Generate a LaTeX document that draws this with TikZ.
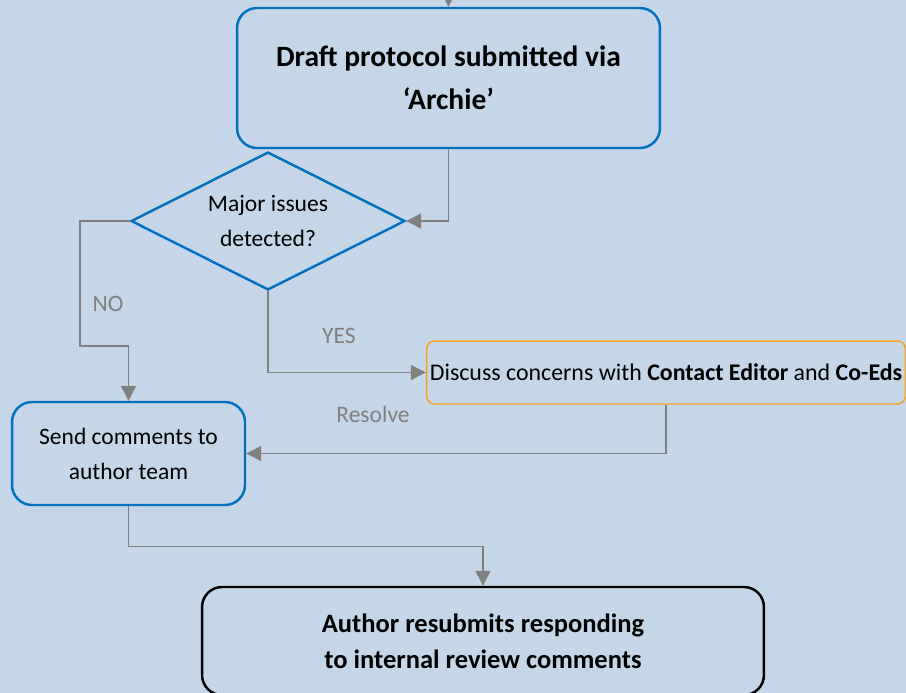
\documentclass[tikz,border=0pt]{standalone}
\usepackage{fontspec}
\setmainfont{Carlito}
\usetikzlibrary{arrows.meta,shapes.geometric,calc}
\definecolor{bg}{HTML}{C6D6E9}
\definecolor{flowblue}{HTML}{0070C0}
\definecolor{flowgray}{HTML}{808080}
\definecolor{floworange}{HTML}{F5A31A}
\newcommand{\txt}{\fontsize{13.4}{19.9}\selectfont}
\tikzset{
  box/.style={draw=flowblue, line width=1.4pt, rounded corners=0.4cm, align=center,
              inner sep=0pt, font=\txt},
  bigbox/.style={box, font=\fontsize{16.8}{24.5}\selectfont\bfseries},
  decision/.style={diamond, draw=flowblue, line width=1.4pt, aspect=2, inner sep=0pt,
                   align=center, font=\txt},
  orangebox/.style={draw=floworange, line width=0.85pt, rounded corners=0.16cm,
                    inner sep=0pt, font=\fontsize{13.6}{19.9}\selectfont},
  endbox/.style={draw=black, line width=1.4pt, rounded corners=0.4cm, align=center,
                 inner sep=0pt, font=\fontsize{15.1}{20.5}\selectfont\bfseries},
  ar/.style={-{Triangle[length=0.3cm, width=0.3cm]}, line width=0.75pt, draw=flowgray},
  lbl/.style={font=\txt, text=flowgray}
}

\begin{document}
\begin{tikzpicture}[x=0.02cm, y=-0.02cm]
  \fill[bg] (0,0) rectangle (906,693);
  \useasboundingbox (0,0) rectangle (906,693);

  \node[bigbox, minimum width=8.46cm, minimum height=2.8cm] (draft) at (448.5,78) {Draft protocol submitted via\\‘Archie’};
  \node[decision, minimum width=5.48cm, minimum height=2.76cm] (issue) at (268,221) {Major issues\\detected?};
  \node[orangebox, minimum width=9.58cm, minimum height=1.26cm] (discuss) at (666,372.5) {Discuss concerns with \textbf{Contact Editor} and \textbf{Co-Eds}};
  \node[box, minimum width=4.66cm, minimum height=2.06cm] (send) at (128.5,453.5) {Send comments to\\author team};
  \node[endbox, minimum width=11.24cm, minimum height=2.16cm] (resub) at (483,641) {Author resubmits responding\\to internal review comments};

  \coordinate (entry) at (448.5,0);
  \coordinate (nobend) at (80,346);
  \draw[ar] (entry) -- (draft);
  \draw[ar] (draft.south) |- (issue.east);
  \draw[ar] (issue.west) -| (nobend) -| (send.north);
  \draw[ar] (issue.south) |- (discuss.west);
  \draw[ar] (discuss.south) |- (send.east);
  \draw[ar] (send.south) -- ++(0,40) -| (resub.north);

  \node[lbl] (no) at (108,304) {NO};
  \node[lbl] (yes) at (339,336) {YES};
  \node[lbl] (resolve) at (373,414) {Resolve};
\end{tikzpicture}
\end{document}
